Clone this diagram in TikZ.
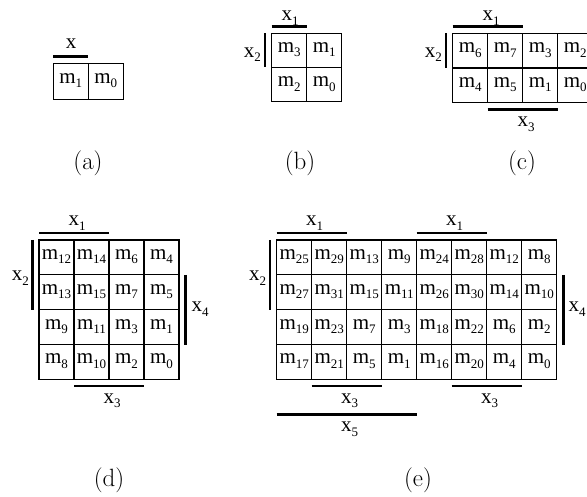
\documentclass[tikz,border=0pt]{standalone}
\usepackage{fontspec}
\newfontfamily\tnr{Liberation Serif}
\newcommand\sbx[1]{\raisebox{-4.5pt}{\fontsize{13}{13}\selectfont #1}}
\newcommand\mv[1]{m\sbx{#1}}
\newcommand\xv[1]{x\sbx{#1}}
% #1 prefix, #2 left, #3 top, #4 cell width, #5 cell height, #6 rows
\newcommand\kgrid[6]{%
  \foreach \row [count=\r] in {#6}{%
    \foreach \v [count=\c] in \row{%
      \node[cell, minimum width=#4pt, minimum height=#5pt] (#1-\r-\c)
        at ({#2+(\c-0.5)*#4},{#3+(\r-0.5)*#5}) {\mv{\v}};
    }%
  }%
}
\begin{document}
\begin{tikzpicture}[x=1pt,y=-1pt,
  cell/.style={draw, line width=1.3pt, inner sep=0pt, outer sep=0pt,
    text height=9pt, text depth=5pt, font=\tnr\fontsize{21}{21}\selectfont},
  bar/.style={line width=2.7pt},
  lab/.style={inner sep=0pt, font=\tnr\fontsize{21}{21}\selectfont},
  captxt/.style={inner sep=0pt, font=\fontsize{25}{25}\selectfont}]
\useasboundingbox (0,0) rectangle (587,497);

% (a)
\kgrid{a}{53.3}{63.3}{35}{36}{{1,0}}
\draw[bar] ([yshift=6.5pt]a-1-1.north west) -- ([yshift=6.5pt]a-1-1.north east);
\node[lab, anchor=base] (ax) at (71,49) {x};
\node[captxt] (capa) at (88,163) {(a)};

% (b)
\kgrid{b}{271.7}{33.3}{35}{34.2}{{3,1},{2,0}}
\draw[bar] ([yshift=6.7pt]b-1-1.north west) -- ([yshift=6.7pt]b-1-1.north east);
\draw[bar] ([xshift=-6.7pt]b-1-1.north west) -- ([xshift=-6.7pt]b-1-1.south west);
\node[lab, anchor=base] (bx1) at (290,20.7) {\xv{1}};
\node[lab, anchor=base east] (bx2) at (261,57.5) {\xv{2}};
\node[captxt] (capb) at (300,163) {(b)};

% (c)
\kgrid{c}{452.7}{33.3}{35}{34.7}{{6,7,3,2},{4,5,1,0}}
\draw[bar] ([yshift=6.7pt]c-1-1.north west) -- ([yshift=6.7pt]c-1-2.north east);
\draw[bar] ([xshift=-6.7pt]c-1-1.north west) -- ([xshift=-6.7pt]c-1-1.south west);
\draw[bar] ([yshift=-6.7pt]c-2-2.south west) -- ([yshift=-6.7pt]c-2-3.south east);
\node[lab, anchor=base] (cx1) at (491,20.7) {\xv{1}};
\node[lab, anchor=base east] (cx2) at (442,57.5) {\xv{2}};
\node[lab, anchor=base] (cx3) at (526,127) {\xv{3}};
\node[captxt] (capc) at (522,163) {(c)};

% (d)
\kgrid{d}{39}{240}{35}{34.85}{{12,14,6,4},{13,15,7,5},{9,11,3,1},{8,10,2,0}}
\draw[bar] ([yshift=7pt]d-1-1.north west) -- ([yshift=7pt]d-1-2.north east);
\draw[bar] ([xshift=-6.7pt]d-1-1.north west) -- ([xshift=-6.7pt]d-2-1.south west);
\draw[bar] ([xshift=6.7pt]d-2-4.north east) -- ([xshift=6.7pt]d-3-4.south east);
\draw[bar] ([yshift=-6.7pt]d-4-2.south west) -- ([yshift=-6.7pt]d-4-3.south east);
\node[lab, anchor=base] (dx1) at (77,225.7) {\xv{1}};
\node[lab, anchor=base east] (dx2) at (29,281) {\xv{2}};
\node[lab, anchor=base west] (dx4) at (191.5,312) {\xv{4}};
\node[lab, anchor=base] (dx3) at (112,403) {\xv{3}};
\node[captxt] (capd) at (109,480) {(d)};

% (e)
\kgrid{e}{276.7}{240}{35}{34.85}{{25,29,13,9,24,28,12,8},{27,31,15,11,26,30,14,10},{19,23,7,3,18,22,6,2},{17,21,5,1,16,20,4,0}}
\draw[bar] ([yshift=7pt]e-1-1.north west) -- ([yshift=7pt]e-1-2.north east);
\draw[bar] ([yshift=7pt]e-1-5.north west) -- ([yshift=7pt]e-1-6.north east);
\draw[bar] ([xshift=-6.7pt]e-1-1.north west) -- ([xshift=-6.7pt]e-2-1.south west);
\draw[bar] ([xshift=6.7pt]e-2-8.north east) -- ([xshift=6.7pt]e-3-8.south east);
\draw[bar] ([yshift=-6.7pt]e-4-2.south west) -- ([yshift=-6.7pt]e-4-3.south east);
\draw[bar] ([yshift=-6.7pt]e-4-6.south west) -- ([yshift=-6.7pt]e-4-7.south east);
\draw[bar] ([yshift=-35pt]e-4-1.south west) -- ([yshift=-35pt]e-4-4.south east);
\node[lab, anchor=base] (ex1a) at (314.7,225.7) {\xv{1}};
\node[lab, anchor=base] (ex1b) at (454.7,225.7) {\xv{1}};
\node[lab, anchor=base east] (ex2) at (266.3,281) {\xv{2}};
\node[lab, anchor=base west] (ex4) at (568.5,312) {\xv{4}};
\node[lab, anchor=base] (ex3a) at (349.7,403) {\xv{3}};
\node[lab, anchor=base] (ex3b) at (489.7,403) {\xv{3}};
\node[lab, anchor=base] (ex5) at (349.7,431.7) {\xv{5}};
\node[captxt] (cape) at (418,480) {(e)};
\end{tikzpicture}
\end{document}
